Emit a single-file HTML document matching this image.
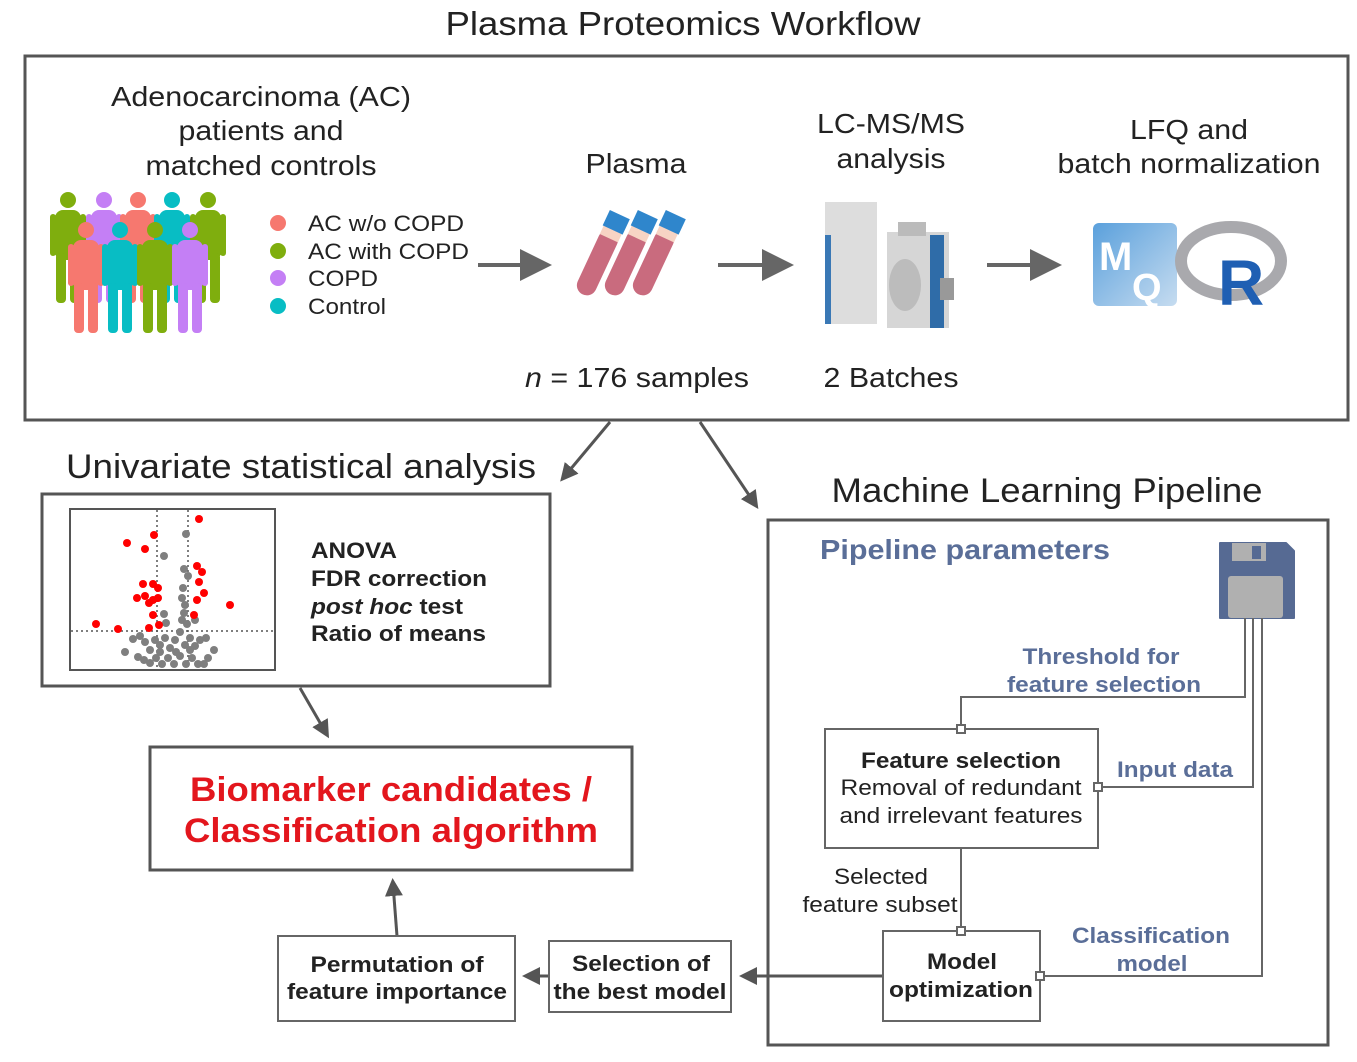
<!DOCTYPE html>
<html><head><meta charset="utf-8"><style>
html,body{margin:0;padding:0;background:#fff;}
svg{display:block;font-family:"Liberation Sans",Arial,sans-serif;}
</style></head><body>
<svg width="1357" height="1062" viewBox="0 0 1357 1062" xmlns="http://www.w3.org/2000/svg">
<defs>
<marker id="ah" markerWidth="8" markerHeight="8" refX="5" refY="4" orient="auto" markerUnits="strokeWidth"><path d="M0,0 L8,4 L0,8 z" fill="#666"/></marker>
<marker id="ah2" markerWidth="6" markerHeight="6" refX="4" refY="3" orient="auto" markerUnits="strokeWidth"><path d="M0,0 L6,3 L0,6 z" fill="#555"/></marker>
<linearGradient id="mq" x1="0" y1="0" x2="1" y2="1"><stop offset="0" stop-color="#5aa0dc"/><stop offset="1" stop-color="#c6dcf0"/></linearGradient>
<g id="person"><circle cx="0" cy="-48" r="8"/><rect x="-13" y="-38" width="26" height="50" rx="8"/><rect x="-12" y="5" width="10" height="50" rx="4"/><rect x="2" y="5" width="10" height="50" rx="4"/><rect x="-18" y="-34" width="6" height="42" rx="3"/><rect x="12" y="-34" width="6" height="42" rx="3"/></g>
</defs>

<text x="683" y="35" font-size="33" text-anchor="middle" fill="#222" textLength="475" lengthAdjust="spacingAndGlyphs">Plasma Proteomics Workflow</text>
<rect x="25" y="56" width="1323" height="364" fill="none" stroke="#555" stroke-width="3"/>

<g font-size="28" fill="#222" text-anchor="middle" lengthAdjust="spacingAndGlyphs">
<text x="261" y="106" textLength="300" lengthAdjust="spacingAndGlyphs">Adenocarcinoma (AC)</text>
<text x="261" y="140" textLength="165" lengthAdjust="spacingAndGlyphs">patients and</text>
<text x="261" y="175" textLength="231" lengthAdjust="spacingAndGlyphs">matched controls</text>
<text x="636" y="173" textLength="101" lengthAdjust="spacingAndGlyphs">Plasma</text>
<text x="891" y="133" textLength="148" lengthAdjust="spacingAndGlyphs">LC-MS/MS</text>
<text x="891" y="168" textLength="109" lengthAdjust="spacingAndGlyphs">analysis</text>
<text x="1189" y="139" textLength="118" lengthAdjust="spacingAndGlyphs">LFQ and</text>
<text x="1189" y="173" textLength="263" lengthAdjust="spacingAndGlyphs">batch normalization</text>
<text x="637" y="387" textLength="224" lengthAdjust="spacingAndGlyphs"><tspan font-style="italic">n</tspan> = 176 samples</text>
<text x="891" y="387" textLength="135" lengthAdjust="spacingAndGlyphs">2 Batches</text>
</g>

<!-- people -->
<g transform="translate(68,248)" fill="#7fae0e"><use href="#person"/></g>
<g transform="translate(104,248)" fill="#c47ff5"><use href="#person"/></g>
<g transform="translate(138,248)" fill="#f6786f"><use href="#person"/></g>
<g transform="translate(172,248)" fill="#08bdc4"><use href="#person"/></g>
<g transform="translate(208,248)" fill="#7fae0e"><use href="#person"/></g>
<g transform="translate(86,278)" fill="#f6786f"><use href="#person"/></g>
<g transform="translate(120,278)" fill="#08bdc4"><use href="#person"/></g>
<g transform="translate(155,278)" fill="#7fae0e"><use href="#person"/></g>
<g transform="translate(190,278)" fill="#c47ff5"><use href="#person"/></g>

<circle cx="278" cy="223" r="8" fill="#f6786f"/>
<circle cx="278" cy="251" r="8" fill="#7fae0e"/>
<circle cx="278" cy="278" r="8" fill="#c47ff5"/>
<circle cx="278" cy="306" r="8" fill="#08bdc4"/>
<g font-size="22" fill="#222">
<text x="308" y="231" textLength="156" lengthAdjust="spacingAndGlyphs">AC w/o COPD</text>
<text x="308" y="259" textLength="161" lengthAdjust="spacingAndGlyphs">AC with COPD</text>
<text x="308" y="286" textLength="70" lengthAdjust="spacingAndGlyphs">COPD</text>
<text x="308" y="314" textLength="78" lengthAdjust="spacingAndGlyphs">Control</text>
</g>

<g stroke="#666" stroke-width="4">
<line x1="478" y1="265" x2="540" y2="265" marker-end="url(#ah)"/>
<line x1="718" y1="265" x2="782" y2="265" marker-end="url(#ah)"/>
<line x1="987" y1="265" x2="1050" y2="265" marker-end="url(#ah)"/>
</g>

<!-- tubes -->
<g transform="translate(608,240) rotate(25)"><rect x="-10" y="-10" width="20" height="70" rx="10" fill="#c96b7e"/><rect x="-10" y="-12" width="20" height="10" fill="#f7d4c4"/><rect x="-11" y="-28" width="22" height="17" fill="#2f86cc"/></g>
<g transform="translate(636,240) rotate(25)"><rect x="-10" y="-10" width="20" height="70" rx="10" fill="#c96b7e"/><rect x="-10" y="-12" width="20" height="10" fill="#f7d4c4"/><rect x="-11" y="-28" width="22" height="17" fill="#2f86cc"/></g>
<g transform="translate(664,240) rotate(25)"><rect x="-10" y="-10" width="20" height="70" rx="10" fill="#c96b7e"/><rect x="-10" y="-12" width="20" height="10" fill="#f7d4c4"/><rect x="-11" y="-28" width="22" height="17" fill="#2f86cc"/></g>

<!-- instrument -->
<rect x="825" y="202" width="52" height="122" fill="#ddd"/>
<rect x="825" y="235" width="6" height="89" fill="#3a78b5"/>
<rect x="887" y="232" width="62" height="96" fill="#d6d6d6"/>
<rect x="930" y="235" width="14" height="93" fill="#2f6ca8"/>
<rect x="898" y="222" width="28" height="14" fill="#bbb"/>
<ellipse cx="905" cy="285" rx="16" ry="26" fill="#bcbcbc"/>
<rect x="940" y="278" width="14" height="22" fill="#999"/>

<!-- MQ R -->
<rect x="1093" y="223" width="84" height="83" rx="6" fill="url(#mq)"/>
<text x="1099" y="270" font-size="40" font-weight="bold" fill="#fff">M</text>
<text x="1132" y="300" font-size="38" font-weight="bold" fill="#fff">Q</text>
<ellipse cx="1231" cy="261" rx="50" ry="34" fill="none" stroke="#a9a9ad" stroke-width="12"/>
<text x="1218" y="305" font-size="64" font-weight="bold" fill="#1f5fb3">R</text>

<g stroke="#555" stroke-width="3">
<line x1="610" y1="422" x2="564" y2="477" marker-end="url(#ah2)"/>
<line x1="700" y1="422" x2="755" y2="504" marker-end="url(#ah2)"/>
<line x1="300" y1="688" x2="326" y2="733" marker-end="url(#ah2)"/>
<line x1="397" y1="936" x2="393" y2="884" marker-end="url(#ah2)"/>
<line x1="883" y1="976" x2="745" y2="976" marker-end="url(#ah2)"/>
<line x1="549" y1="976" x2="528" y2="976" marker-end="url(#ah2)"/>
</g>

<text x="66" y="478" font-size="34" fill="#222" textLength="470" lengthAdjust="spacingAndGlyphs">Univariate statistical analysis</text>
<rect x="42" y="494" width="508" height="192" fill="none" stroke="#555" stroke-width="3"/>
<rect x="70" y="509" width="205" height="161" fill="none" stroke="#555" stroke-width="2"/>
<g stroke="#555" stroke-width="1.5" stroke-dasharray="2,3">
<line x1="157" y1="510" x2="157" y2="669"/><line x1="188" y1="510" x2="188" y2="669"/><line x1="71" y1="631" x2="274" y2="631"/>
</g>
<g fill="#7f7f7f">
<circle cx="186" cy="534" r="4"/><circle cx="164" cy="556" r="4"/><circle cx="184" cy="569" r="4"/><circle cx="188" cy="576" r="4"/>
<circle cx="183" cy="588" r="4"/><circle cx="182" cy="598" r="4"/><circle cx="185" cy="605" r="4"/><circle cx="184" cy="613" r="4"/><circle cx="182" cy="620" r="4"/><circle cx="187" cy="624" r="4"/><circle cx="195" cy="620" r="4"/><circle cx="164" cy="614" r="4"/><circle cx="166" cy="623" r="4"/>
<circle cx="133" cy="639" r="4"/><circle cx="125" cy="652" r="4"/><circle cx="138" cy="657" r="4"/><circle cx="140" cy="636" r="4"/><circle cx="145" cy="642" r="4"/><circle cx="150" cy="650" r="4"/><circle cx="144" cy="660" r="4"/>
<circle cx="155" cy="640" r="4"/><circle cx="160" cy="645" r="4"/><circle cx="165" cy="638" r="4"/><circle cx="170" cy="648" r="4"/><circle cx="175" cy="640" r="4"/><circle cx="180" cy="632" r="4"/><circle cx="185" cy="645" r="4"/><circle cx="190" cy="638" r="4"/><circle cx="195" cy="646" r="4"/><circle cx="200" cy="640" r="4"/><circle cx="206" cy="638" r="4"/><circle cx="214" cy="650" r="4"/><circle cx="208" cy="658" r="4"/>
<circle cx="150" cy="663" r="4"/><circle cx="156" cy="658" r="4"/><circle cx="162" cy="664" r="4"/><circle cx="168" cy="658" r="4"/><circle cx="174" cy="664" r="4"/><circle cx="180" cy="656" r="4"/><circle cx="186" cy="664" r="4"/><circle cx="192" cy="658" r="4"/><circle cx="198" cy="664" r="4"/><circle cx="204" cy="664" r="4"/><circle cx="160" cy="652" r="4"/><circle cx="176" cy="652" r="4"/><circle cx="190" cy="650" r="4"/>
</g>
<g fill="#f00">
<circle cx="199" cy="519" r="4"/><circle cx="154" cy="535" r="4"/><circle cx="127" cy="543" r="4"/><circle cx="145" cy="549" r="4"/><circle cx="197" cy="566" r="4"/><circle cx="202" cy="572" r="4"/><circle cx="199" cy="582" r="4"/><circle cx="143" cy="584" r="4"/><circle cx="153" cy="584" r="4"/><circle cx="158" cy="588" r="4"/><circle cx="204" cy="593" r="4"/><circle cx="137" cy="598" r="4"/><circle cx="145" cy="596" r="4"/><circle cx="158" cy="598" r="4"/><circle cx="153" cy="600" r="4"/><circle cx="149" cy="603" r="4"/><circle cx="197" cy="600" r="4"/><circle cx="230" cy="605" r="4"/><circle cx="153" cy="615" r="4"/><circle cx="194" cy="615" r="4"/><circle cx="96" cy="624" r="4"/><circle cx="118" cy="629" r="4"/><circle cx="149" cy="628" r="4"/><circle cx="159" cy="625" r="4"/>
</g>
<g font-size="22" font-weight="bold" fill="#222">
<text x="311" y="558" textLength="86" lengthAdjust="spacingAndGlyphs">ANOVA</text>
<text x="311" y="586" textLength="176" lengthAdjust="spacingAndGlyphs">FDR correction</text>
<text x="311" y="614" textLength="152" lengthAdjust="spacingAndGlyphs"><tspan font-style="italic">post hoc</tspan> test</text>
<text x="311" y="641" textLength="175" lengthAdjust="spacingAndGlyphs">Ratio of means</text>
</g>

<rect x="150" y="747" width="482" height="123" fill="none" stroke="#555" stroke-width="3"/>
<g font-size="34" font-weight="bold" fill="#e3161d" text-anchor="middle">
<text x="391" y="801" textLength="402" lengthAdjust="spacingAndGlyphs">Biomarker candidates /</text>
<text x="391" y="842" textLength="414" lengthAdjust="spacingAndGlyphs">Classification algorithm</text>
</g>

<text x="1047" y="502" font-size="34" fill="#222" text-anchor="middle" textLength="431" lengthAdjust="spacingAndGlyphs">Machine Learning Pipeline</text>
<rect x="768" y="520" width="560" height="525" fill="none" stroke="#555" stroke-width="3"/>
<text x="820" y="559" font-size="28" font-weight="bold" fill="#5a6e98" textLength="290" lengthAdjust="spacingAndGlyphs">Pipeline parameters</text>

<path d="M1220,543 H1286 L1294,551 V618 H1220 Z" fill="#566a93" stroke="#566a93" stroke-width="2" stroke-linejoin="round"/>
<rect x="1232" y="543" width="34" height="18" fill="#b0b0b0"/>
<rect x="1252" y="546" width="9" height="13" fill="#566a93"/>
<rect x="1228" y="576" width="55" height="42" rx="3" fill="#b0b0b0"/>

<g fill="none" stroke="#666" stroke-width="2">
<polyline points="1245,618 1245,697 961,697 961,729"/>
<polyline points="1253,618 1253,787 1098,787"/>
<polyline points="1262,618 1262,976 1040,976"/>
<line x1="961" y1="848" x2="961" y2="931"/>
</g>
<g font-size="22" font-weight="bold" fill="#5a6e98" text-anchor="middle">
<text x="1101" y="664" textLength="157" lengthAdjust="spacingAndGlyphs">Threshold for</text>
<text x="1104" y="692" textLength="194" lengthAdjust="spacingAndGlyphs">feature selection</text>
<text x="1175" y="777" textLength="116" lengthAdjust="spacingAndGlyphs">Input data</text>
<text x="1151" y="943" textLength="158" lengthAdjust="spacingAndGlyphs">Classification</text>
<text x="1152" y="971" textLength="71" lengthAdjust="spacingAndGlyphs">model</text>
</g>

<rect x="825" y="729" width="273" height="119" fill="#fff" stroke="#666" stroke-width="2"/>
<g text-anchor="middle" fill="#222" font-size="22">
<text x="961" y="768" font-weight="bold" textLength="200" lengthAdjust="spacingAndGlyphs">Feature selection</text>
<text x="961" y="795" textLength="241" lengthAdjust="spacingAndGlyphs">Removal of redundant</text>
<text x="961" y="823" textLength="243" lengthAdjust="spacingAndGlyphs">and irrelevant features</text>
<text x="881" y="884" textLength="94" lengthAdjust="spacingAndGlyphs">Selected</text>
<text x="880" y="912" textLength="155" lengthAdjust="spacingAndGlyphs">feature subset</text>
</g>
<rect x="883" y="931" width="157" height="90" fill="#fff" stroke="#666" stroke-width="2"/>
<g text-anchor="middle" fill="#222" font-size="22" font-weight="bold">
<text x="962" y="969" textLength="70" lengthAdjust="spacingAndGlyphs">Model</text>
<text x="961" y="997" textLength="144" lengthAdjust="spacingAndGlyphs">optimization</text>
</g>
<g fill="#fff" stroke="#666" stroke-width="2">
<rect x="957" y="725" width="8" height="8"/><rect x="1094" y="783" width="8" height="8"/><rect x="957" y="927" width="8" height="8"/><rect x="1036" y="972" width="8" height="8"/>
</g>

<rect x="549" y="941" width="182" height="71" fill="#fff" stroke="#666" stroke-width="2"/>
<rect x="278" y="936" width="237" height="85" fill="#fff" stroke="#666" stroke-width="2"/>
<g text-anchor="middle" fill="#222" font-size="22" font-weight="bold">
<text x="641" y="971" textLength="138" lengthAdjust="spacingAndGlyphs">Selection of</text>
<text x="640" y="999" textLength="173" lengthAdjust="spacingAndGlyphs">the best model</text>
<text x="397" y="972" textLength="173" lengthAdjust="spacingAndGlyphs">Permutation of</text>
<text x="397" y="999" textLength="220" lengthAdjust="spacingAndGlyphs">feature importance</text>
</g>
</svg>
</body></html>
